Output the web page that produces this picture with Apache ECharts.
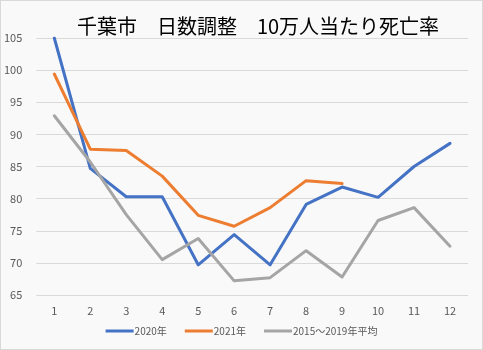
<!DOCTYPE html>
<html>
<head>
<meta charset="utf-8">
<script src="https://cdn.jsdelivr.net/npm/echarts@6/dist/echarts.min.js"></script>
<style>
  html, body { margin: 0; padding: 0; background: #ffffff; }
  #chart { width: 481px; height: 348px; border: 1px solid #d9d9d9; background: #f9f9f9; }
</style>
</head>
<body>
<div id="chart"></div>
<script>
// Months and monthly death rates per 100,000 (day-count adjusted)
const months = ['1', '2', '3', '4', '5', '6', '7', '8', '9', '10', '11', '12'];
const rate2020 = [105.0, 84.7, 80.3, 80.3, 69.7, 74.4, 69.7, 79.1, 81.8, 80.2, 85.0, 88.6];
const rate2021 = [99.4, 87.7, 87.5, 83.5, 77.4, 75.7, 78.6, 82.8, 82.35, null, null, null];
const rateAvg = [92.9, 85.7, 77.5, 70.5, 73.8, 67.2, 67.7, 71.9, 67.8, 76.6, 78.6, 72.6];
const seriesNames = ['2020年', '2021年', '2015～2019年平均'];
const titleText = '千葉市　日数調整　10万人当たり死亡率';

const colors = ['#4472c4', '#ed7d31', '#a5a5a5'];
const labelFont = '"Noto Sans CJK JP", "Noto Sans", sans-serif';

const chart = echarts.init(document.getElementById('chart'), null, { renderer: 'canvas' });

function lineSeries(name, data, color) {
  return {
    name: name,
    type: 'line',
    data: data,
    symbol: 'none',
    smooth: false,
    lineStyle: { color: color, width: 3, cap: 'round', join: 'round' },
    itemStyle: { color: color },
    clip: true
  };
}

chart.setOption({
  animation: false,
  backgroundColor: '#f9f9f9',
  title: {
    text: titleText,
    left: 252,
    top: 10,
    textAlign: 'center',
    textStyle: { fontFamily: labelFont, fontSize: 20, fontWeight: 'normal', color: '#000000' }
  },
  grid: { left: 34, right: 14, top: 37, bottom: 54 },
  legend: {
    bottom: 8,
    left: 'center',
    itemWidth: 28,
    itemHeight: 3,
    itemGap: 18,
    icon: 'rect',
    textStyle: { fontFamily: labelFont, fontSize: 10, color: '#595959', padding: [0, 0, 0, -4] },
    data: seriesNames
  },
  xAxis: {
    type: 'category',
    data: months,
    boundaryGap: true,
    axisLine: { show: false },
    axisTick: { show: false },
    axisLabel: { color: '#595959', fontSize: 11, fontFamily: labelFont, margin: 10 }
  },
  yAxis: {
    type: 'value',
    min: 65,
    max: 105,
    interval: 5,
    axisLine: { show: false },
    axisTick: { show: false },
    splitLine: { lineStyle: { color: '#d9d9d9', width: 1 } },
    axisLabel: { color: '#595959', fontSize: 11, fontFamily: labelFont, margin: 14 }
  },
  series: [
    lineSeries(seriesNames[0], rate2020, colors[0]),
    lineSeries(seriesNames[1], rate2021, colors[1]),
    lineSeries(seriesNames[2], rateAvg, colors[2])
  ]
});
</script>
</body>
</html>
